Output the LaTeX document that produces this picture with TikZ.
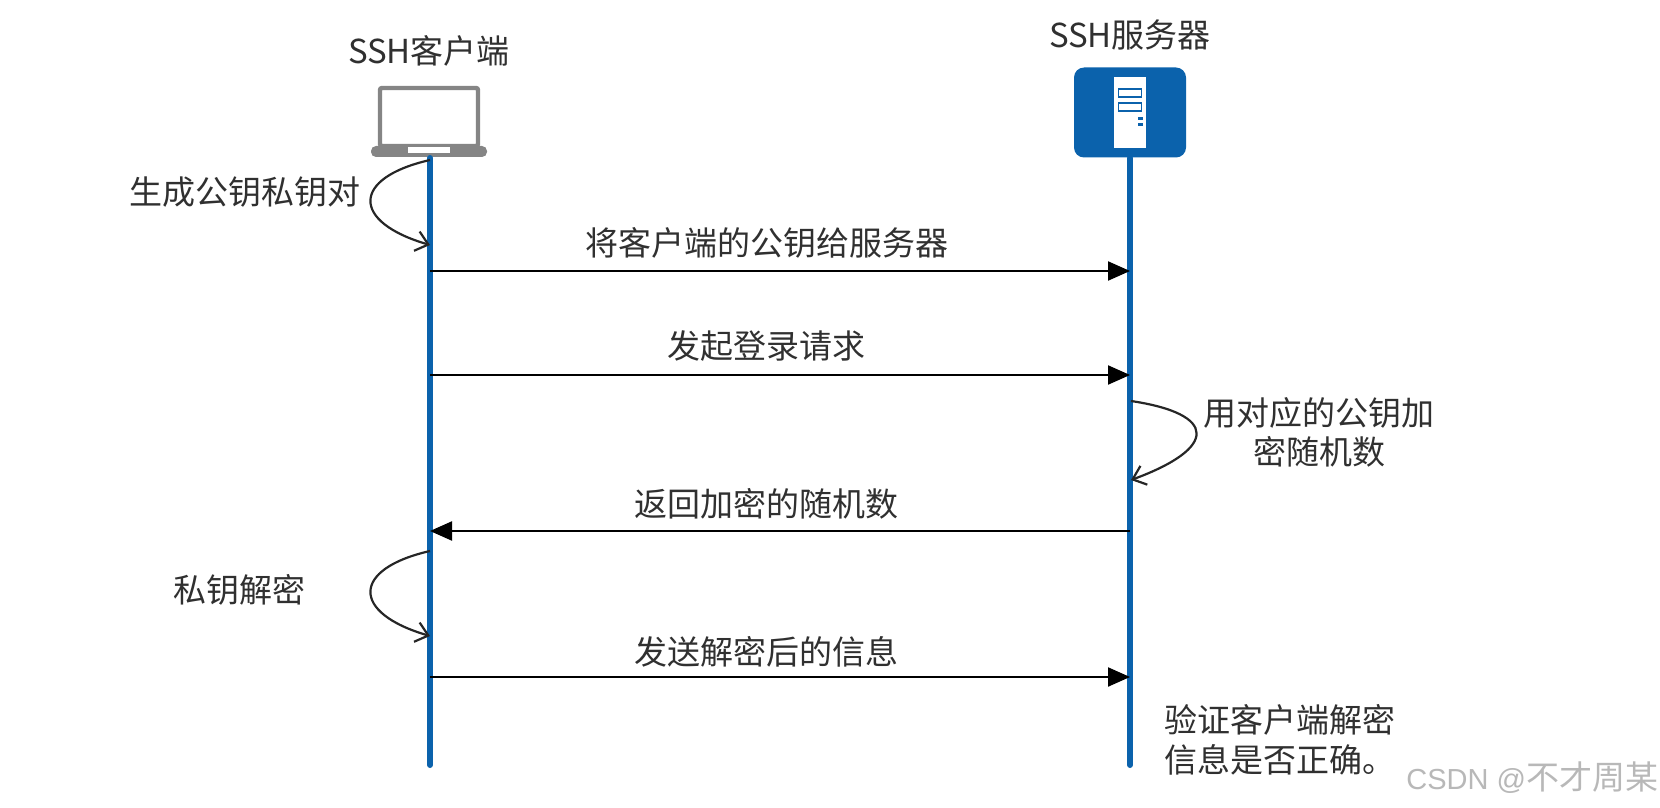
\documentclass[tikz,border=0pt]{standalone}
\usepackage{fontspec}
\setmainfont{Noto Sans CJK SC}
\newfontfamily\wmlatin{Liberation Sans}
\usetikzlibrary{arrows.meta}
\definecolor{lifeblue}{HTML}{0B62AC}
\definecolor{lapgray}{HTML}{858585}
\definecolor{txtdark}{HTML}{303030}
\tikzset{
  lbl/.style={inner sep=0pt,font=\fontsize{16.5pt}{20pt}\selectfont,text=txtdark},
  lifeline/.style={draw=lifeblue,line width=3pt,line cap=round},
  msg/.style={draw=black,line width=1.1pt,-{Triangle[length=11pt,width=9.5pt]}},
  selfloop/.style={draw=black!85,line width=1.1pt,-{Straight Barb[length=6pt,width=10pt]}},
}
\begin{document}
\begin{tikzpicture}[x=0.5pt,y=-0.5pt]
\useasboundingbox (0,0) rectangle (1660,808);
% laptop
\node[draw=lapgray,fill=white,line width=2.2pt,minimum width=49pt,minimum height=29pt,inner sep=0pt,rounded corners=1pt] (laptop) at (429,117) {};
\node[fill=lapgray,rounded corners=2.5pt,minimum width=58pt,minimum height=5.5pt,inner sep=0pt] (lapbase) at (429,151.5) {};
\node[fill=white,minimum width=21pt,minimum height=3pt,inner sep=0pt] (lapslot) at (429,150.5) {};
% server
\node[fill=lifeblue,rounded corners=5pt,minimum width=56pt,minimum height=45pt,inner sep=0pt] (server) at (1130,112.5) {};
\node[fill=white,minimum width=16pt,minimum height=35.5pt,inner sep=0pt] (tower) at (1130,112.5) {};
\node[draw=lifeblue,line width=0.9pt,minimum width=11.5pt,minimum height=4pt,inner sep=0pt] (slota) at (1130,93) {};
\node[draw=lifeblue,line width=0.9pt,minimum width=11.5pt,minimum height=4pt,inner sep=0pt] (slotb) at (1130,107) {};
\node[fill=lifeblue,minimum width=2.5pt,minimum height=1.5pt,inner sep=0pt] (leda) at (1140,119) {};
\node[fill=lifeblue,minimum width=2.5pt,minimum height=1.5pt,inner sep=0pt] (ledb) at (1140,125) {};
% coordinates
\coordinate (ctop) at (430,158);
\coordinate (cbot) at (430,765);
\coordinate (stop) at (1130,158);
\coordinate (sbot) at (1130,765);
\foreach \n/\y in {a/271,b/375,c/531,d/677}{
  \coordinate (c\n) at (430,\y);
  \coordinate (s\n) at (1130,\y);
}
\coordinate (la1) at (430,160);
\coordinate (la2) at (430,245);
\coordinate (lb1) at (430,551);
\coordinate (lb2) at (430,636);
\coordinate (lc1) at (1131,401);
\coordinate (lc2) at (1131,480);
% lifelines
\draw[lifeline] (ctop) -- (cbot);
\draw[lifeline] (stop) -- (sbot);
% messages
\draw[msg] (ca) -- (sa);
\draw[msg] (cb) -- (sb);
\draw[msg] (sc) -- (cc);
\draw[msg] (cd) -- (sd);
% self loops
\draw[selfloop] (la1) .. controls (351,178) and (351,222) .. (la2);
\draw[selfloop] (lb1) .. controls (351,569) and (351,613) .. (lb2);
\draw[selfloop] (lc1) .. controls (1218,414) and (1218,448) .. (lc2);
% labels
\node[lbl] (tclient) at (429,51) {SSH客户端};
\node[lbl] (tserver) at (1130,35) {SSH服务器};
\node[lbl] (tgen) at (245,192) {生成公钥私钥对};
\node[lbl] (tm1) at (767,243) {将客户端的公钥给服务器};
\node[lbl] (tm2) at (766,346) {发起登录请求};
\node[lbl] (tenc1) at (1319,413) {用对应的公钥加};
\node[lbl] (tenc2) at (1319,452) {密随机数};
\node[lbl] (tm3) at (766,504) {返回加密的随机数};
\node[lbl] (tdec) at (239.5,590) {私钥解密};
\node[lbl] (tm4) at (766,652) {发送解密后的信息};
\node[lbl,anchor=west] (tv1) at (1164,720) {验证客户端解密};
\node[lbl,anchor=west] (tv2) at (1164,760) {信息是否正确。};
\node[inner sep=0pt,anchor=west,text=black!28,font=\fontsize{16.5pt}{20pt}\selectfont] (wm) at (1406,778) {{\wmlatin\fontsize{14.5pt}{20pt}\selectfont CSDN @}不才周某};
\end{tikzpicture}
\end{document}
